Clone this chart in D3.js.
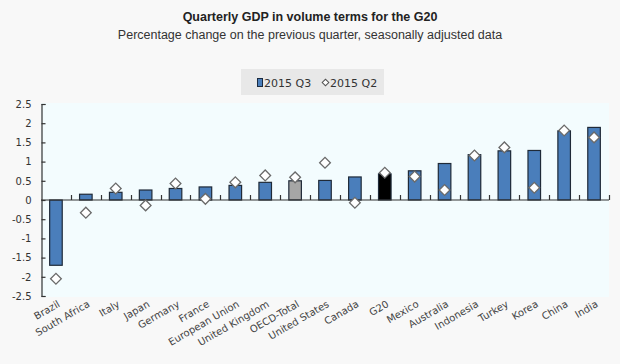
<!DOCTYPE html>
<html>
<head>
<meta charset="utf-8">
<script src="https://cdn.jsdelivr.net/npm/d3@7"></script>
<style>
  html, body { margin: 0; padding: 0; background: #f8f8f8; }
  svg { display: block; }
</style>
</head>
<body>
<svg id="chart" width="620" height="364"></svg>
<script>
const categories = ["Brazil","South Africa","Italy","Japan","Germany","France","European Union","United Kingdom","OECD-Total","United States","Canada","G20","Mexico","Australia","Indonesia","Turkey","Korea","China","India"];
const q3Values = [-1.7, 0.15, 0.2, 0.26, 0.3, 0.34, 0.38, 0.46, 0.5, 0.51, 0.6, 0.68, 0.76, 0.95, 1.18, 1.28, 1.29, 1.8, 1.89];
const q2Values = [-2.05, -0.33, 0.3, -0.14, 0.43, 0.03, 0.46, 0.64, 0.59, 0.97, -0.07, 0.71, 0.61, 0.26, 1.16, 1.37, 0.32, 1.81, 1.63];
const yTicks = [2.5, 2, 1.5, 1, 0.5, 0, -0.5, -1, -1.5, -2, -2.5];
const yTickLabels = ["2.5","2","1.5","1","0.5","0","-0.5","-1","-1.5","-2","-2.5"];
const seriesNames = ["2015 Q3", "2015 Q2"];

(function () {
const svg = d3.select("#chart");
const pLeft = 41, pRight = 609, pTop = 104, pBottom = 296;

// title
svg.append("text").attr("x", 310).attr("y", 21).attr("text-anchor", "middle")
  .attr("font-family", "Liberation Sans, Arial, sans-serif").attr("font-size", 12.5)
  .attr("font-weight", "bold").attr("fill", "#222").text("Quarterly GDP in volume terms for the G20");
svg.append("text").attr("x", 310).attr("y", 38.5).attr("text-anchor", "middle")
  .attr("font-family", "Liberation Sans, Arial, sans-serif").attr("font-size", 12.5)
  .attr("fill", "#333").text("Percentage change on the previous quarter, seasonally adjusted data");

// legend
const lg = svg.append("g");
lg.append("rect").attr("x", 241).attr("y", 69).attr("width", 143).attr("height", 26).attr("fill", "#e8e8e8");
lg.append("rect").attr("x", 257.5).attr("y", 78.5).attr("width", 5).attr("height", 8)
  .attr("fill", "#4a7ebb").attr("stroke", "#1a2a40").attr("stroke-width", 1);
lg.append("text").attr("x", 264).attr("y", 86.5).attr("font-family", "DejaVu Sans, Verdana, sans-serif")
  .attr("font-size", 11).attr("fill", "#333").text(seriesNames[0]);
lg.append("path").attr("transform", "translate(325.5,82.5) rotate(45)")
  .attr("d", d3.symbol().type(d3.symbolSquare).size(22)())
  .attr("fill", "#fff").attr("stroke", "#555").attr("stroke-width", 1);
lg.append("text").attr("x", 330).attr("y", 86.5).attr("font-family", "DejaVu Sans, Verdana, sans-serif")
  .attr("font-size", 11).attr("fill", "#333").text(seriesNames[1]);

// scales
const x = d3.scaleBand().domain(categories).range([pLeft, pRight]).paddingInner(0.58).paddingOuter(0.29);
const y = d3.scaleLinear().domain([-2.5, 2.5]).range([pBottom, pTop]);

// plot background
svg.append("rect").attr("x", pLeft).attr("y", pTop - 1).attr("width", pRight - pLeft).attr("height", pBottom - pTop + 2)
  .attr("fill", "#f3fcfe");

// bars
const barColor = (d, i) => categories[i] === "G20" ? "#000" : (categories[i] === "OECD-Total" ? "#a6a6a6" : "#4a7ebb");
svg.append("g").selectAll("rect").data(q3Values).join("rect")
  .attr("x", (d, i) => x(categories[i]))
  .attr("width", x.bandwidth())
  .attr("y", d => y(Math.max(0, d)))
  .attr("height", d => Math.abs(y(d) - y(0)))
  .attr("fill", barColor)
  .attr("stroke", "#1f2a38").attr("stroke-width", 1.2);

// zero line with boundary ticks
const zg = svg.append("g").attr("stroke", "#333").attr("stroke-width", 1.2);
zg.append("line").attr("x1", pLeft).attr("x2", pRight).attr("y1", y(0)).attr("y2", y(0));
const step = x.step();
d3.range(1, categories.length + 1).forEach(k => {
  const xx = Math.round(pLeft + k * step) + 0.5;
  zg.append("line").attr("x1", xx).attr("x2", xx).attr("y1", y(0)).attr("y2", y(0) - 5);
});

// diamonds
svg.append("g").selectAll("path").data(q2Values).join("path")
  .attr("transform", (d, i) => `translate(${x(categories[i]) + x.bandwidth() / 2},${y(d)}) rotate(45)`)
  .attr("d", d3.symbol().type(d3.symbolSquare).size(58)())
  .attr("fill", "#fff").attr("stroke", "#6a6a6a").attr("stroke-width", 1.3);

// y axis
const yAxis = d3.axisLeft(y).tickValues(yTicks)
  .tickFormat((d, i) => yTickLabels[i]).tickSizeInner(-4).tickSizeOuter(-4).tickPadding(10);
const ya = svg.append("g").attr("transform", `translate(${pLeft + 0.5},0)`).call(yAxis);
ya.selectAll("path, line").attr("stroke", "#333").attr("stroke-width", 1.2);
ya.selectAll("text").attr("font-family", "DejaVu Sans, Verdana, sans-serif").attr("font-size", 10).attr("fill", "#333");

// category labels
svg.append("g").selectAll("text").data(categories).join("text")
  .attr("transform", d => `translate(${x(d) + x.bandwidth() / 2 + 3},${pBottom + 7}) rotate(-30)`)
  .attr("text-anchor", "end")
  .attr("dy", "0.35em")
  .attr("font-family", "DejaVu Sans, Verdana, sans-serif").attr("font-size", 10)
  .attr("fill", "#444").text(d => d);
})();
</script>
</body>
</html>
